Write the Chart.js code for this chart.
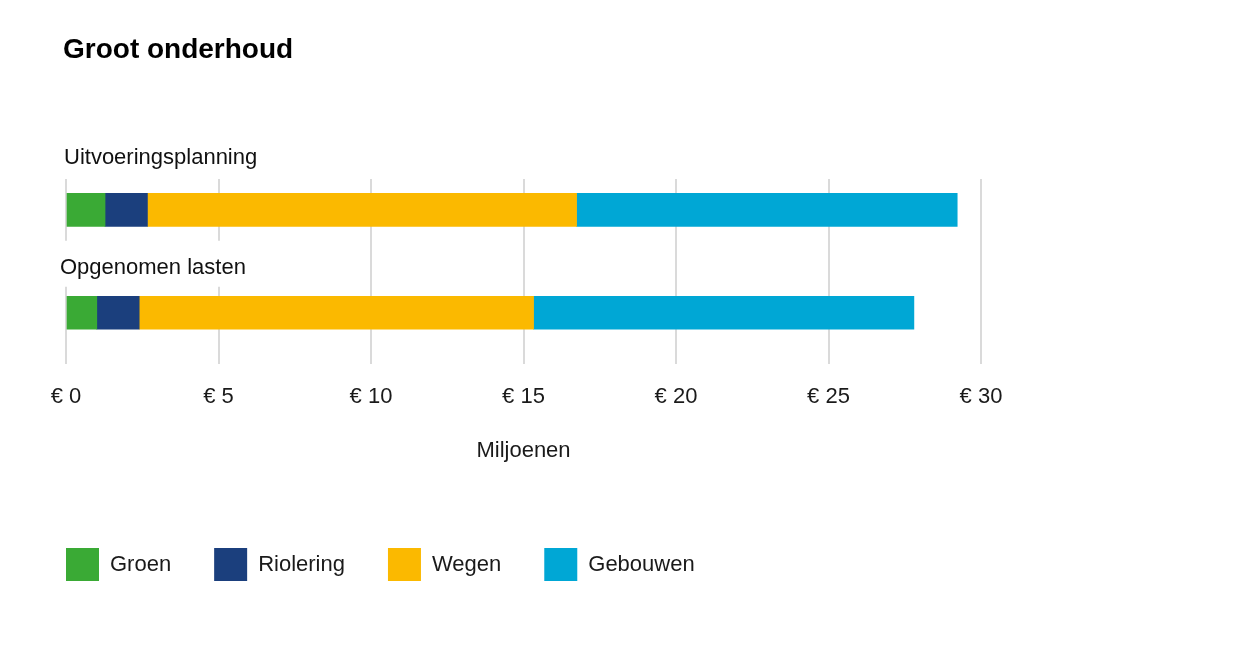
<!DOCTYPE html>
<html>
<head>
<meta charset="utf-8">
<title>Groot onderhoud</title>
<script src="https://cdn.jsdelivr.net/npm/chart.js@4"></script>
<style>
  html, body { margin: 0; padding: 0; background: #fff; }
  #wrap { width: 1258px; height: 668px; position: relative; }
</style>
</head>
<body>
<div id="wrap"><canvas id="chart"></canvas></div>
<script>
// values in millions of euros
let categories = ['Uitvoeringsplanning', 'Opgenomen lasten'];
let groen = [1.28, 1.01];
let riolering = [1.39, 1.39];
let wegen = [14.07, 12.93];
let gebouwen = [12.48, 12.47];
let xTicks = [0, 5, 10, 15, 20, 25, 30];

const FONT = "'Liberation Sans', Arial, Helvetica, sans-serif";

// category labels sit above their bar, on a white patch over the grid
let labelOffsets = [52, 45];
let labelShift = [-2, -6];

function toPoints(values) {
    return values.map((v, i) => ({ x: v, y: i }));
}

const textPlugin = {
    id: 'textPlugin',
    beforeDatasetsDraw(chart) {
        const ctx = chart.ctx;
        const yScale = chart.scales.y;
        const left = chart.chartArea.left;
        ctx.save();
        ctx.font = '22px ' + FONT;
        ctx.textBaseline = 'middle';
        ctx.textAlign = 'left';
        categories.forEach((c, i) => {
            const cy = yScale.getPixelForValue(i) - labelOffsets[i];
            const x = left + labelShift[i];
            const w = ctx.measureText(c).width;
            ctx.fillStyle = '#fff';
            ctx.fillRect(x - 8, cy - 27, w + 16, 46);
            ctx.fillStyle = '#111';
            ctx.fillText(c, x, cy);
        });
        ctx.restore();
    },
    afterDraw(chart) {
        const ctx = chart.ctx;
        ctx.save();
        ctx.font = 'bold 28px ' + FONT;
        ctx.fillStyle = '#000';
        ctx.textBaseline = 'middle';
        ctx.fillText('Groot onderhoud', chart.chartArea.left - 3, 50);
        ctx.restore();
    }
};

new Chart(document.getElementById('chart').getContext('2d'), {
    type: 'bar',
    data: {
        datasets: [
            { label: 'Groen', data: toPoints(groen), backgroundColor: '#3aaa35' },
            { label: 'Riolering', data: toPoints(riolering), backgroundColor: '#1b3f7d' },
            { label: 'Wegen', data: toPoints(wegen), backgroundColor: '#fbb900' },
            { label: 'Gebouwen', data: toPoints(gebouwen), backgroundColor: '#00a7d5' }
        ]
    },
    options: {
        indexAxis: 'y',
        responsive: true,
        maintainAspectRatio: false,
        animation: false,
        barThickness: 33,
        layout: {
            padding: { top: 179, left: 23, right: 277, bottom: 77 }
        },
        scales: {
            x: {
                stacked: true,
                min: xTicks[0],
                max: xTicks[xTicks.length - 1],
                afterBuildTicks(scale) {
                    scale.ticks = xTicks.map(v => ({ value: v }));
                },
                grid: { color: '#dadada', lineWidth: 2, drawTicks: false },
                border: { display: false },
                ticks: {
                    padding: 20,
                    color: '#1a1a1a',
                    font: { family: FONT, size: 22 },
                    callback: v => '€ ' + v
                },
                title: {
                    display: true,
                    text: 'Miljoenen',
                    color: '#1a1a1a',
                    font: { family: FONT, size: 22 },
                    padding: { top: 7, bottom: 41 }
                }
            },
            y: {
                type: 'linear',
                stacked: true,
                reverse: true,
                offset: false,
                min: -0.3,
                max: 1.5,
                grid: { display: false },
                border: { display: false },
                ticks: { display: false },
                afterFit(scale) { scale.width = 43; }
            }
        },
        plugins: {
            legend: {
                position: 'bottom',
                align: 'start',
                labels: {
                    boxWidth: 33,
                    boxHeight: 33,
                    padding: 43,
                    color: '#1a1a1a',
                    font: { family: FONT, size: 22 }
                }
            },
            tooltip: { enabled: false }
        }
    },
    plugins: [textPlugin]
});
</script>
</body>
</html>
